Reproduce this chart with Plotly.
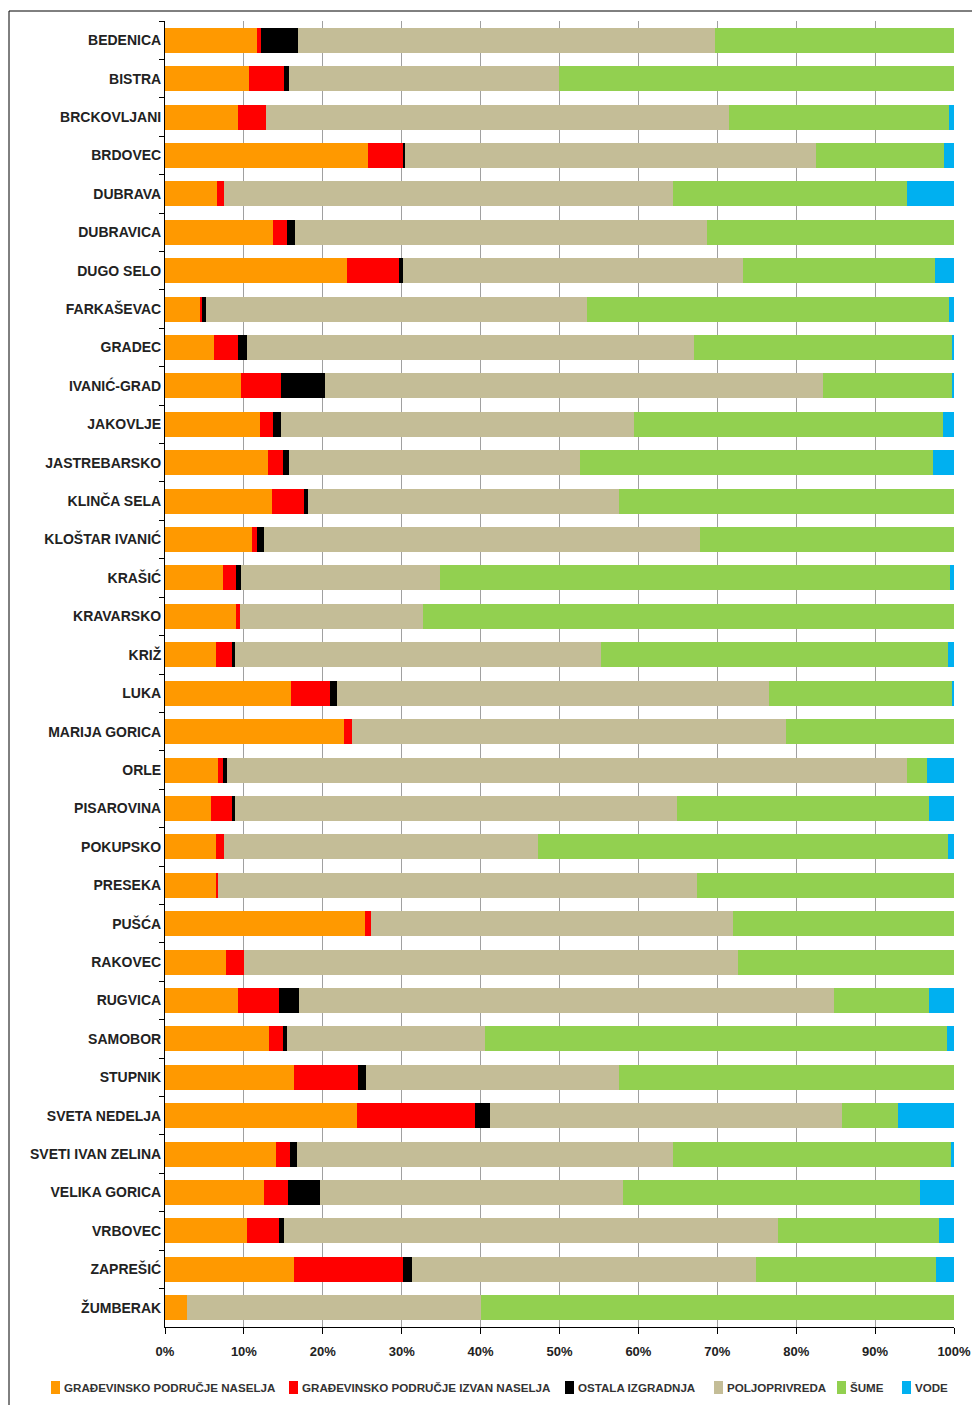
import plotly.graph_objects as go

# Municipalities (top to bottom)
categories = [
    "BEDENICA", "BISTRA", "BRCKOVLJANI", "BRDOVEC", "DUBRAVA", "DUBRAVICA",
    "DUGO SELO", "FARKAŠEVAC", "GRADEC", "IVANIĆ-GRAD", "JAKOVLJE",
    "JASTREBARSKO", "KLINČA SELA", "KLOŠTAR IVANIĆ", "KRAŠIĆ", "KRAVARSKO",
    "KRIŽ", "LUKA", "MARIJA GORICA", "ORLE", "PISAROVINA", "POKUPSKO",
    "PRESEKA", "PUŠĆA", "RAKOVEC", "RUGVICA", "SAMOBOR", "STUPNIK",
    "SVETA NEDELJA", "SVETI IVAN ZELINA", "VELIKA GORICA", "VRBOVEC",
    "ZAPREŠIĆ", "ŽUMBERAK",
]

# Land-use shares (%) per municipality
gradjevinsko_naselja = [
    11.6, 10.7, 9.3, 25.75, 6.65, 13.7, 23.1, 4.45, 6.15, 9.65, 12.0,
    13.0, 13.55, 11.05, 7.35, 8.95, 6.5, 16.0, 22.65, 6.7, 5.8, 6.5,
    6.55, 25.3, 7.75, 9.3, 13.15, 16.35, 24.35, 14.1, 12.5, 10.45,
    16.35, 2.85,
]
gradjevinsko_izvan = [
    0.6, 4.35, 3.5, 4.4, 0.8, 1.75, 6.6, 0.25, 3.1, 5.05, 1.7,
    2.0, 4.1, 0.65, 1.65, 0.5, 2.0, 4.85, 1.05, 0.7, 2.7, 0.95,
    0.2, 0.85, 2.3, 5.1, 1.8, 8.05, 14.9, 1.7, 3.05, 4.0,
    13.8, 0.0,
]
ostala_izgradnja = [
    4.7, 0.7, 0.0, 0.3, 0.0, 1.0, 0.5, 0.5, 1.2, 5.6, 0.95,
    0.7, 0.5, 0.8, 0.6, 0.0, 0.4, 0.95, 0.0, 0.4, 0.4, 0.0,
    0.0, 0.0, 0.0, 2.55, 0.45, 1.05, 1.95, 0.95, 4.05, 0.6,
    1.1, 0.0,
]
poljoprivreda = [
    52.8, 34.2, 58.7, 52.0, 56.9, 52.2, 43.05, 48.25, 56.65, 63.1, 44.75,
    36.95, 39.35, 55.3, 25.3, 23.3, 46.4, 54.7, 54.95, 86.2, 55.95, 39.8,
    60.7, 45.85, 62.55, 67.8, 25.1, 32.05, 44.55, 47.65, 38.5, 62.6,
    43.6, 37.25,
]
sume = [
    30.2, 50.1, 27.9, 16.3, 29.65, 31.35, 24.3, 45.95, 32.6, 16.3, 39.2,
    44.75, 42.5, 32.2, 64.6, 67.25, 43.9, 23.2, 21.35, 2.6, 31.95, 52.05,
    32.55, 28.0, 27.4, 12.05, 58.6, 42.5, 7.2, 35.2, 37.7, 20.4,
    22.9, 59.9,
]
vode = [
    0.0, 0.0, 0.6, 1.25, 6.0, 0.0, 2.45, 0.6, 0.3, 0.3, 1.4,
    2.6, 0.0, 0.0, 0.5, 0.0, 0.8, 0.3, 0.0, 3.4, 3.2, 0.7,
    0.0, 0.0, 0.0, 3.2, 0.9, 0.0, 7.05, 0.4, 4.25, 1.95,
    2.25, 0.0,
]

series_names = [
    "GRAĐEVINSKO PODRUČJE NASELJA",
    "GRAĐEVINSKO PODRUČJE IZVAN NASELJA",
    "OSTALA IZGRADNJA",
    "POLJOPRIVREDA",
    "ŠUME",
    "VODE",
]
series_values = [gradjevinsko_naselja, gradjevinsko_izvan, ostala_izgradnja,
                 poljoprivreda, sume, vode]
series_colors = ["#FF9900", "#FF0000", "#000000", "#C4BD97", "#92D050", "#00B0F0"]

x_ticks = list(range(0, 101, 10))

# Figure geometry (pixels)
W, H = 972, 1405
ML, MR, MT, MB = 165, 18, 21, 78
PW, PH = W - ML - MR, H - MT - MB


def px_x(px):
    return (px - ML) / PW


def px_y(py):
    return 1 - (py - MT) / PH


FONT = "Liberation Sans, Arial, sans-serif"

fig = go.Figure()
for name, vals, col in zip(series_names, series_values, series_colors):
    fig.add_trace(go.Bar(
        name=name, y=categories, x=vals, orientation="h",
        marker=dict(color=col, line=dict(width=0)),
        showlegend=False,
    ))

fig.update_layout(
    width=W, height=H,
    margin=dict(l=ML, r=MR, t=MT, b=MB, pad=0, autoexpand=False),
    barmode="stack", barnorm="percent", bargap=0.35,
    paper_bgcolor="white", plot_bgcolor="white",
    font=dict(family=FONT, color="#222222"),
    xaxis=dict(
        range=[0, 100], tickvals=x_ticks, ticktext=[f"{v}%" for v in x_ticks],
        showgrid=True, gridcolor="#a0a0a0", gridwidth=1, zeroline=False,
        showline=True, linecolor="#000000", linewidth=1,
        ticks="outside", ticklen=6, tickcolor="#000000", tickwidth=1,
        ticklabelstandoff=6, automargin=False,
        tickfont=dict(family=FONT, size=13, color="#222222", weight="bold"),
        fixedrange=True,
    ),
    yaxis=dict(
        type="category", categoryorder="array", categoryarray=categories,
        autorange="reversed", tickson="boundaries",
        showgrid=False, zeroline=False,
        showline=True, linecolor="#000000", linewidth=1,
        ticks="outside", ticklen=5, tickcolor="#000000", tickwidth=1,
        ticklabelstandoff=0, automargin=False,
        tickfont=dict(family=FONT, size=14, color="#222222", weight="bold"),
        fixedrange=True,
    ),
)

# Outer frame (top and left edges)
fig.add_shape(type="line", xref="paper", yref="paper",
              x0=px_x(9), x1=px_x(W + 5), y0=px_y(11), y1=px_y(11),
              line=dict(color="#000000", width=1))
fig.add_shape(type="line", xref="paper", yref="paper",
              x0=px_x(9), x1=px_x(9), y0=px_y(11), y1=px_y(H + 5),
              line=dict(color="#000000", width=1))

# Legend row along the bottom
legend_x = [51, 289, 565, 714, 837, 902]
legend_y = 1387.5
for name, col, lx in zip(series_names, series_colors, legend_x):
    fig.add_shape(type="rect", xref="paper", yref="paper",
                  x0=px_x(lx), x1=px_x(lx + 9),
                  y0=px_y(legend_y - 6.5), y1=px_y(legend_y + 6.5),
                  fillcolor=col, line=dict(width=0))
    fig.add_annotation(
        xref="paper", yref="paper", x=px_x(lx + 11), y=px_y(legend_y),
        xanchor="left", yanchor="middle", showarrow=False, text=name,
        font=dict(family=FONT, size=11.6, color="#333333", weight="bold"),
    )

fig.write_html("out.html")
